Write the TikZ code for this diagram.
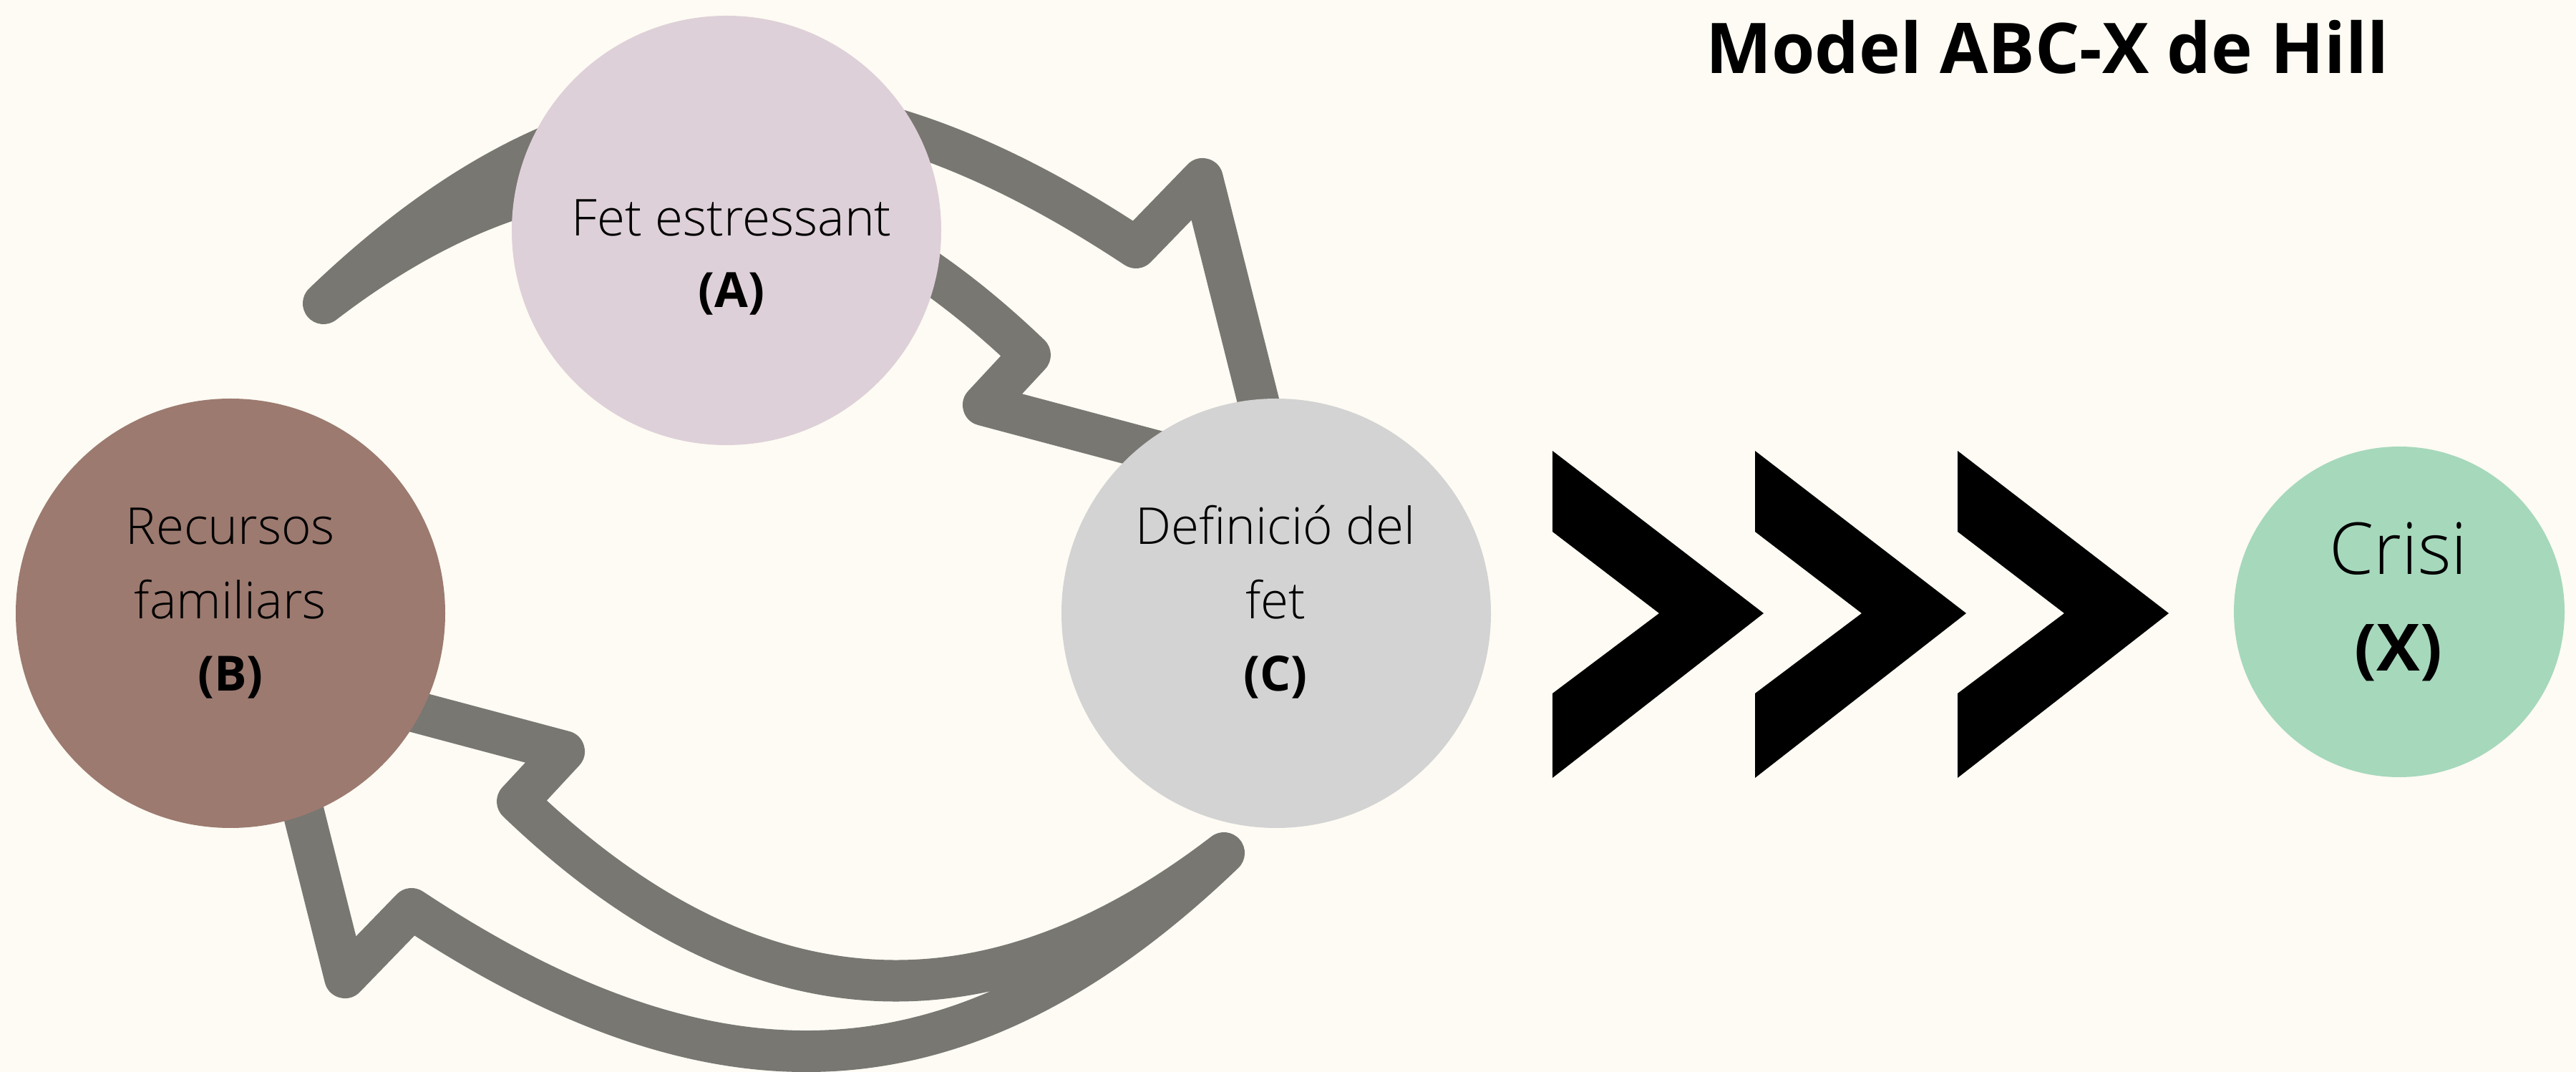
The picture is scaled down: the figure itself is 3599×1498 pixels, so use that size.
\documentclass[tikz,border=0pt]{standalone}
\usepackage{fontspec}
\setmainfont{Open Sans}[UprightFont={* Light}, BoldFont={* Bold}]
\usetikzlibrary{positioning,calc}

\definecolor{paper}{HTML}{FDFBF3}
\definecolor{stressA}{HTML}{DED0D8}
\definecolor{resB}{HTML}{9C7A70}
\definecolor{defC}{HTML}{D3D3D3}
\definecolor{crisisX}{HTML}{A6D8BC}
\definecolor{loopgray}{HTML}{787772}

\begin{document}
\begin{tikzpicture}[
    x=0.1mm, y=-0.1mm,
    bubble/.style={circle, inner sep=0pt, minimum size=60mm},
    txt/.style={anchor=base, inner sep=0pt, font=\fontsize{20.2}{24}\selectfont},
    tag/.style={anchor=base, inner sep=0pt, font=\bfseries\fontsize{19.3}{23}\selectfont},
    loop/.style={draw=loopgray, line width=5.8mm, line join=round},
    chev/.style={fill=black},
]
\fill[paper] (0,0) rectangle (3599,1498);
\useasboundingbox (0,0) rectangle (3599,1498);

% the two hollow feedback arrows, the top one is the bottom one turned round
\foreach \r in {0,180}
  \draw[loop, rotate around={\r:(1081,808)}]
    (375,940) -- (482,1366) -- (575,1270)
    .. controls (998,1550) and (1343,1544) .. (1710,1192)
    .. controls (1400,1430) and (1070,1453) .. (723,1120)
    -- (788,1050) -- cycle;

\node[bubble, fill=stressA] (A) at (1015,322) {};
\node[bubble, fill=resB] (B) at (322,857) {};
\node[bubble, fill=defC] (C) at (1783,857) {};
\node[bubble, fill=crisisX, minimum size=46.2mm] (X) at (3352,855) {};

\node[txt] (A1) at (1022,330) {Fet estressant};
\node[tag] (A2) at (1022,430) {(A)};
\node[txt] (B1) at (322,761) {Recursos};
\node[txt] (B2) at (322,865) {familiars};
\node[tag] (B3) at (322,966) {(B)};
\node[txt] (C1) at (1782,761) {Definició del};
\node[txt] (C2) at (1782,865) {fet};
\node[tag] (C3) at (1782,966) {(C)};
\node[txt, font=\fontsize{28.5}{34}\selectfont] (X1) at (3351,803) {Crisi};
\node[tag, font=\bfseries\fontsize{25.9}{31}\selectfont] (X2) at (3351,938) {(X)};

% three chevrons towards the crisis
\foreach \dx in {0,283,566}
  \fill[chev, shift={(\dx,0)}] (2169,630) -- (2464,857) -- (2169,1087)
    -- (2169,969) -- (2318,857) -- (2169,743) -- cycle;

\node[anchor=base, inner sep=0pt, font=\bfseries\fontsize{27.8}{33}\selectfont]
  (title) at (2860,103) {Model ABC-X de Hill};
\end{tikzpicture}
\end{document}
